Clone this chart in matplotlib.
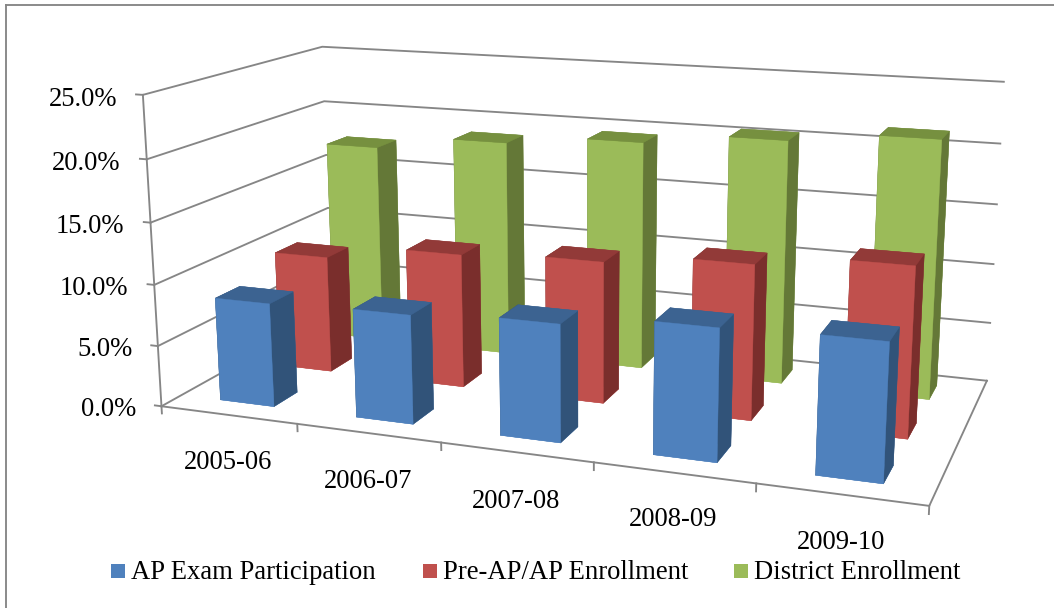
import numpy as np
import matplotlib
matplotlib.use("Agg")
import matplotlib.pyplot as plt
from matplotlib.lines import Line2D
from matplotlib.patches import Rectangle

plt.rcParams['font.family'] = ['Liberation Serif', 'DejaVu Serif']

years = ['2005-06', '2006-07', '2007-08', '2008-09', '2009-10']
series_names = ['AP Exam Participation', 'Pre-AP/AP Enrollment', 'District Enrollment']
ap_exam = [8.48, 8.76, 9.28, 10.23, 10.48]
pre_ap = [9.88, 11.16, 11.64, 12.53, 13.51]
district = [17.4, 18.6, 19.41, 20.36, 21.24]
z_ticks = [0, 5, 10, 15, 20, 25]

# front, top and side shades of each series
blue = ['#4F81BD', '#3C6391', '#315379']
red = ['#C0504D', '#923A38', '#7A2E2C']
green = ['#9BBB59', '#76903F', '#647837']
grid_col = '#868686'
line_w = 1.35

W, H = 1054, 608
fig = plt.figure(figsize=(W / 100, H / 100), dpi=100)


def fx(px):
    return px / W


def fy(py):
    return 1 - py / H


# square 3d panel, placed in pixels
side = 1000.0
ax = fig.add_axes([69.40 / W, -149.42 / H, side / W, side / H], projection='3d')
ax.computed_zorder = False
ax.set_axis_off()

# walls: gridlines bend at the back left corner
for z in z_ticks:
    ax.plot([0, 0, 5], [0, 1, 1], [z, z, z], color=grid_col, lw=line_w, zorder=1)
    ax.plot([-0.05, 0], [0, 0], [z, z], color=grid_col, lw=line_w, zorder=1)

# axis lines and floor edges
ax.plot([0, 0], [0, 0], [0, 25], color=grid_col, lw=line_w, zorder=1)
ax.plot([0, 5, 5], [0, 0, 1], [0, 0, 0], color=grid_col, lw=line_w, zorder=1)
for i in range(6):
    ax.plot([i, i], [0, 0], [0, -0.6], color=grid_col, lw=line_w, zorder=1)

# bars, back row first so the nearer rows cover it
bar_w, bar_d = 0.40, 0.131
rows = [(district, 0.777, green), (pre_ap, 0.438, red), (ap_exam, 0.103, blue)]
order = 2
for values, y0, shades in rows:
    front, top, right = shades
    # bar3d face order: bottom, top, -y, +y, -x, +x
    faces = [front, top, front, top, right, right]
    for i, v in enumerate(values):
        ax.bar3d(i + 0.295, y0, 0, bar_w, bar_d, v, color=faces, edgecolor=faces,
                 linewidth=0.3, shade=False, zorder=order)
        order += 1

ax.set_xlim(0, 5)
ax.set_ylim(0, 1)
ax.set_zlim(0, 25)
ax.view_init(13.9557, -70.0596, 0.0108)
ax.set_proj_type('persp', focal_length=0.3331)
ax.set_box_aspect((1, 0.4748, 0.4110), zoom=0.8763)

# value labels
z_right = [136, 132.3, 128.3, 124.5, 120, 117]
z_base = [416, 356, 295, 232.7, 170, 106.5]
for z, rx, by in zip(z_ticks, z_right, z_base):
    fig.text(fx(rx), fy(by), f'{z:.1f}%', ha='right', va='baseline', fontsize=19.2, color='black')

# category labels
year_x = [228.3, 368, 516, 673, 841]
year_base = [469.3, 488.3, 508, 526.5, 549.3]
for label, cx, by in zip(years, year_x, year_base):
    fig.text(fx(cx), fy(by), label, ha='center', va='baseline', fontsize=19.2, color='black')

# legend
swatch_x = [111, 422.5, 734]
text_x = [131, 443, 754.3]
for name, sx, tx, shades in zip(series_names, swatch_x, text_x, [blue, red, green]):
    fig.add_artist(Rectangle((fx(sx), fy(578)), 14 / W, 14 / H, transform=fig.transFigure,
                             facecolor=shades[0], edgecolor='none'))
    fig.text(fx(tx), fy(579.3), name, ha='left', va='baseline', fontsize=19.2, color='black')

# chart frame, only the top and left sides fall inside the image
fig.add_artist(Line2D([fx(5.6), fx(5.6)], [0, fy(5.4)], color=grid_col, lw=line_w))
fig.add_artist(Line2D([fx(5.6), 1], [fy(5.4), fy(5.4)], color=grid_col, lw=line_w))

fig.savefig('out.png', dpi=100)
